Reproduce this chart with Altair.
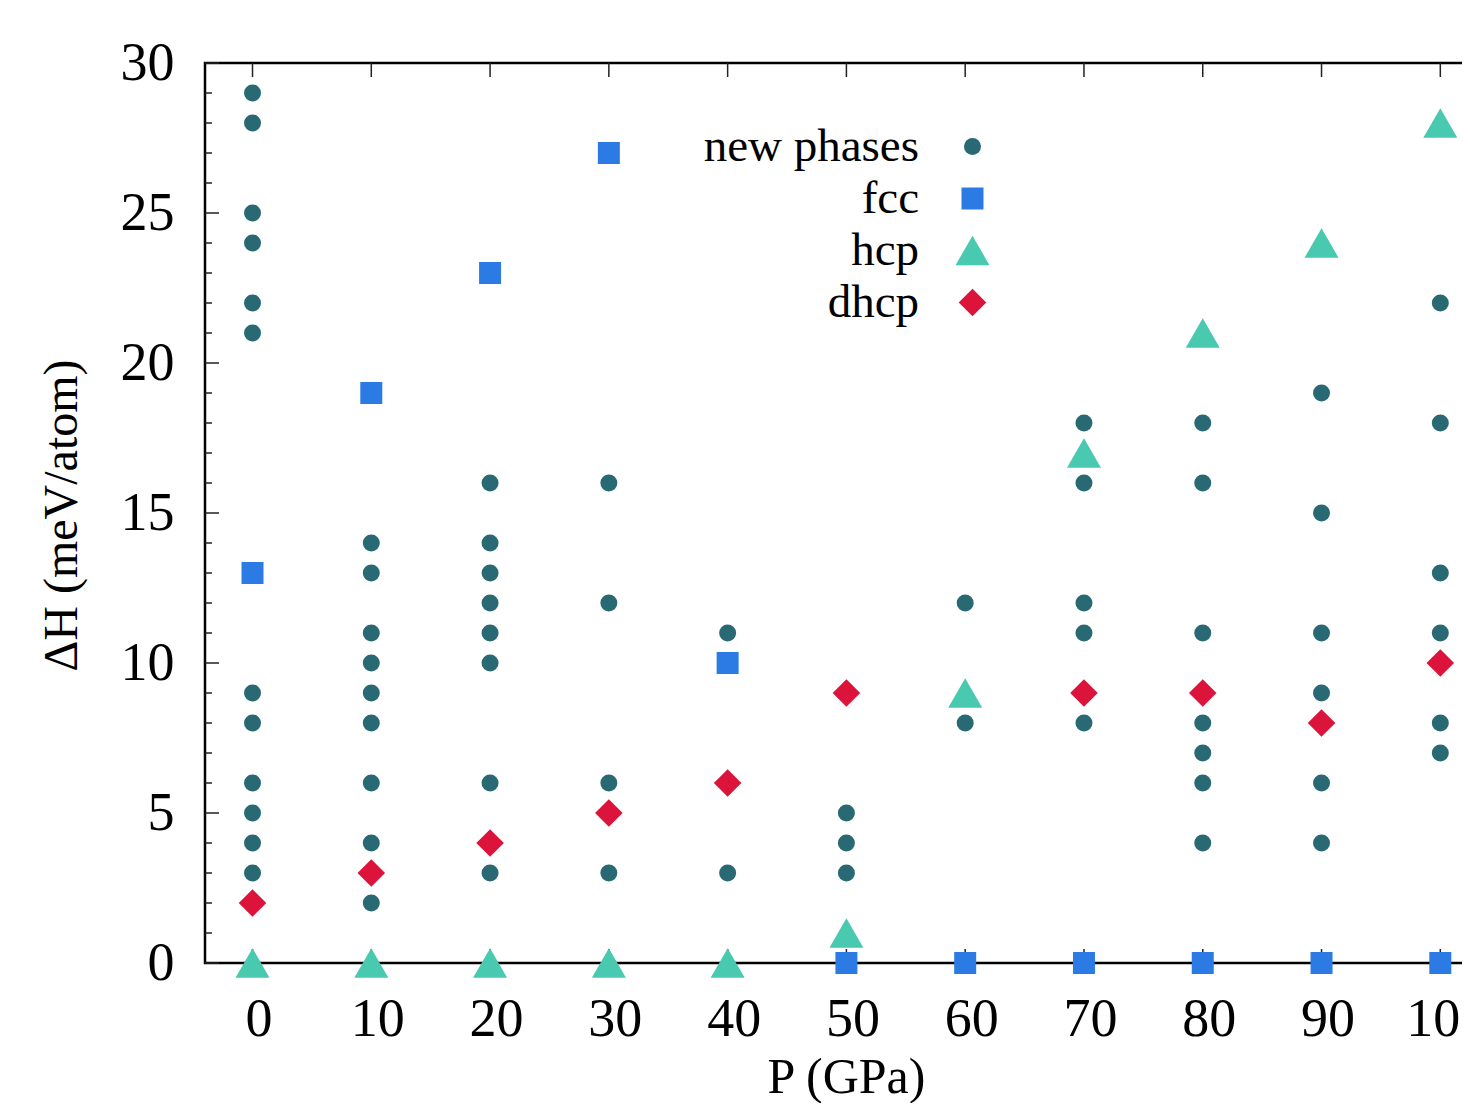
import altair as alt
import pandas as pd

# ---------------- data ----------------
pressures = [0, 10, 20, 30, 40, 50, 60, 70, 80, 90, 100]
new_phases = [
    [29, 28, 25, 24, 22, 21, 9, 8, 6, 5, 4, 3],
    [14, 13, 11, 10, 9, 8, 6, 4, 2],
    [16, 14, 13, 12, 11, 10, 6, 3],
    [16, 12, 6, 3],
    [11, 3],
    [5, 4, 3],
    [12, 8],
    [18, 16, 12, 11, 8],
    [18, 16, 11, 8, 7, 6, 4],
    [19, 15, 11, 9, 6, 4],
    [22, 18, 13, 11, 8, 7],
]
fcc = [13, 19, 23, 27, 10, 0, 0, 0, 0, 0, 0]
hcp = [0, 0, 0, 0, 0, 1, 9, 17, 21, 24, 28]
dhcp = [2, 3, 4, 5, 6, 9, None, 9, 9, 8, 10]

phase_names = ["new phases", "fcc", "hcp", "dhcp"]
phase_colors = ["#286973", "#2c7be5", "#48c9b0", "#dc143c"]
phase_shapes = ["circle", "square", "triangle-up", "diamond"]
phase_sizes = [289, 484, 1156, 760]

x_ticks = [0, 10, 20, 30, 40, 50, 60, 70, 80, 90, 100]
y_ticks = [0, 5, 10, 15, 20, 25, 30]
y_minor = [v for v in range(0, 31) if v % 5 != 0]

# ---------------- tables ----------------
rows = []
for p, vals in zip(pressures, new_phases):
    for v in vals:
        rows.append({"P": p, "H": v, "phase": "new phases"})
for name, series in (("fcc", fcc), ("hcp", hcp), ("dhcp", dhcp)):
    for p, v in zip(pressures, series):
        if v is not None:
            rows.append({"P": p, "H": v, "phase": name})
df = pd.DataFrame(rows)

FONT = "Liberation Serif"

x_enc = alt.X(
    "P:Q",
    scale=alt.Scale(domain=[-4, 102.5], nice=False, zero=False),
    axis=alt.Axis(
        values=x_ticks,
        title="P (GPa)",
        labelBaseline="alphabetic",
        labelPadding=72,
        labelOffset=6,
        labelFlush=False,
        labelOverlap=False,
        labelBound=False,
        titleX=641,
        titleY=129,
        titleAlign="center",
        titleBaseline="alphabetic",
        titleFontSize=50,
    ),
)
y_enc = alt.Y(
    "H:Q",
    scale=alt.Scale(domain=[0, 30], nice=False, zero=False),
    axis=alt.Axis(
        values=y_ticks,
        title="ΔH (meV/atom)",
        labelPadding=31,
        labelFlush=False,
        labelOverlap=False,
        titleX=-143,
        titleY=452,
        titleAngle=270,
        titleAlign="center",
        titleBaseline="middle",
        titleFontSize=48,
    ),
)

leg = alt.Legend(
    title=None,
    orient="none",
    legendX=744,
    legendY=60,
    labelAlign="right",
    labelOffset={"expr": "-77"},
    labelFont=FONT,
    labelFontSize=47,
    labelColor="black",
    labelLimit=0,
    rowPadding=4,
    padding=0,
    symbolStrokeWidth=0,
    symbolOpacity=1,
)

points = alt.Chart(df).mark_point(filled=True, opacity=1, strokeWidth=0).encode(
    x=x_enc,
    y=y_enc,
    color=alt.Color("phase:N", scale=alt.Scale(domain=phase_names, range=phase_colors), legend=leg),
    shape=alt.Shape("phase:N", scale=alt.Scale(domain=phase_names, range=phase_shapes), legend=leg),
    size=alt.Size(
        "phase:N",
        scale=alt.Scale(type="ordinal", domain=phase_names, range=phase_sizes),
        legend=leg,
    ),
)

xt = pd.DataFrame({"P": x_ticks})
ymaj = pd.DataFrame({"H": y_ticks})
ymin = pd.DataFrame({"H": y_minor})

tick_style = dict(color="#222222", strokeWidth=1.5)
top_ticks = alt.Chart(xt).mark_rule(**tick_style).encode(x=x_enc, y=alt.value(0), y2=alt.value(14))
bot_ticks = alt.Chart(xt).mark_rule(**tick_style).encode(x=x_enc, y=alt.value(900), y2=alt.value(886))
y_major_ticks = alt.Chart(ymaj).mark_rule(**tick_style).encode(y=y_enc, x=alt.value(0), x2=alt.value(14))
y_minor_ticks = alt.Chart(ymin).mark_rule(**tick_style).encode(y=y_enc, x=alt.value(0), x2=alt.value(7))

chart = (
    alt.layer(top_ticks, bot_ticks, y_major_ticks, y_minor_ticks, points)
    .properties(
        width=1265,
        height=900,
        padding={"left": 197, "top": 55, "right": -8, "bottom": 140},
        autosize=alt.AutoSizeParams(type="none"),
        background="white",
    )
    .configure_view(stroke="black", strokeWidth=2.5)
    .configure_axis(
        domain=False,
        ticks=False,
        tickSize=0,
        grid=False,
        labelFont=FONT,
        labelFontSize=54,
        labelColor="black",
        titleFont=FONT,
        titleFontWeight="normal",
        titleColor="black",
    )
)

chart.save("out.html", embed_options={"renderer": "svg", "actions": False})
